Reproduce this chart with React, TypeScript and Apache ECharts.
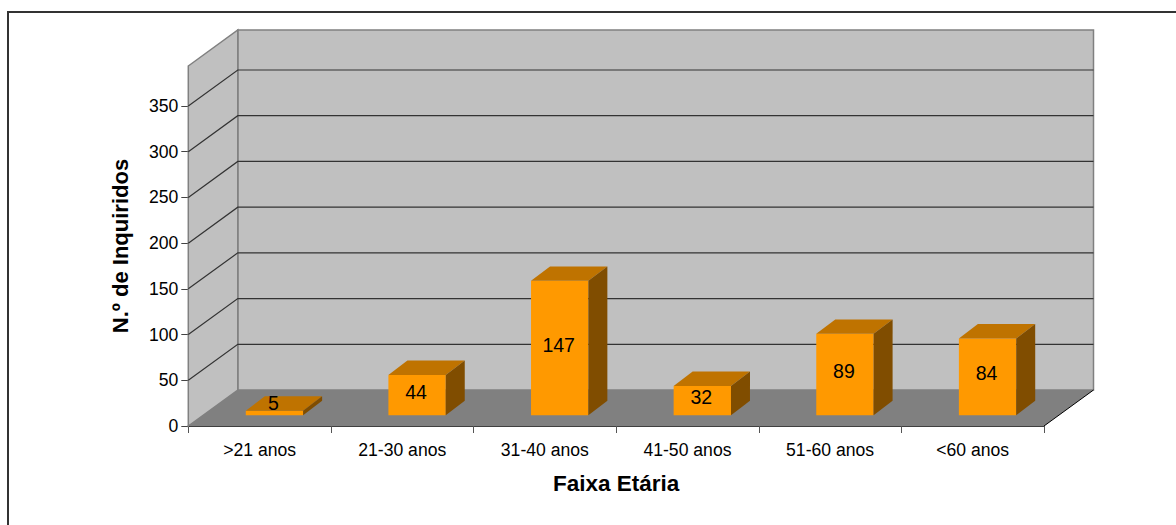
import React, { useEffect, useRef } from "react";
import * as echarts from "echarts";

const categories = [">21 anos", "21-30 anos", "31-40 anos", "41-50 anos", "51-60 anos", "<60 anos"];
const respondents = [5, 44, 147, 32, 89, 84];
const yTicks = [0, 50, 100, 150, 200, 250, 300, 350];
const yMax = 393.75;
const xName = "Faixa Etária";
const yName = "N.º de Inquiridos";

const DX = 49.5;
const DY = 36;
const FONT = "'Liberation Sans', Arial, sans-serif";

function pts(list: number[][]) {
  return { points: list };
}

export default function App() {
  const ref = useRef<HTMLDivElement>(null);
  useEffect(() => {
    const chart = echarts.init(ref.current!, undefined, { renderer: "svg" });
    chart.setOption({
      animation: false,
      backgroundColor: "#ffffff",
      grid: { left: 188.3, right: 132, top: 66, bottom: 99, containLabel: false },
      xAxis: {
        type: "category",
        data: categories,
        boundaryGap: true,
        name: xName,
        nameLocation: "middle",
        nameGap: 46,
        nameTextStyle: { fontFamily: FONT, fontSize: 22.5, fontWeight: "bold", color: "#000" },
        axisLine: { show: true, lineStyle: { color: "#000", width: 1.5 } },
        axisTick: { show: true, alignWithLabel: false, length: 7, lineStyle: { color: "#555" } },
        axisLabel: { fontFamily: FONT, fontSize: 17.6, color: "#000", margin: 15, interval: 0 },
      },
      yAxis: {
        type: "value",
        min: 0,
        max: yMax,
        name: yName,
        nameLocation: "middle",
        nameGap: 57,
        nameTextStyle: { fontFamily: FONT, fontSize: 22, fontWeight: "bold", color: "#000" },
        splitLine: { show: false },
        axisLine: { show: true, lineStyle: { color: "#444", width: 1.5 } },
        axisTick: { show: true, length: 7, customValues: yTicks, lineStyle: { color: "#444" } },
        axisLabel: { fontFamily: FONT, fontSize: 17.6, color: "#000", margin: 10, customValues: yTicks },
      },
      series: [
        {
          type: "custom",
          name: "walls",
          silent: true,
          z: 1,
          data: yTicks.map((v) => [0, v]),
          renderItem: (params: any, api: any) => {
            const cs = params.coordSys;
            const x0 = cs.x;
            const x1 = cs.x + cs.width;
            const yT = cs.y;
            const yB = cs.y + cs.height;
            const v = api.value(1);
            const y = api.coord([0, v])[1];
            const children: any[] = [];
            if (params.dataIndex === 0) {
              children.push(
                { type: "polygon", shape: pts([[x0 + DX, yT - DY], [x1 + DX, yT - DY], [x1 + DX, yB - DY], [x0 + DX, yB - DY]]), style: { fill: "#c0c0c0", stroke: "#808080", lineWidth: 1.5 } },
                { type: "polygon", shape: pts([[x0, yT], [x0 + DX, yT - DY], [x0 + DX, yB - DY], [x0, yB]]), style: { fill: "#c0c0c0", stroke: "#808080", lineWidth: 1.5 } },
                { type: "polygon", shape: pts([[x0, yB], [x0 + DX, yB - DY], [x1 + DX, yB - DY], [x1, yB]]), style: { fill: "#808080" } },
                { type: "line", shape: { x1: x1, y1: yB, x2: x1 + DX, y2: yB - DY }, style: { stroke: "#000", lineWidth: 1 } }
              );
            } else {
              children.push(
                { type: "polyline", shape: pts([[x0, y], [x0 + DX, y - DY], [x1 + DX, y - DY]]), style: { fill: "none", stroke: "#333", lineWidth: 1.2 } }
              );
            }
            return { type: "group", children };
          },
        },
        {
          type: "custom",
          name: "N.º de Inquiridos",
          z: 5,
          data: respondents.map((v, i) => [i, v]),
          encode: { x: 0, y: 1 },
          renderItem: (_params: any, api: any) => {
            const i = api.value(0);
            const v = api.value(1);
            const band = api.size([1, 0])[0];
            const base = api.coord([i, 0]);
            const top = api.coord([i, v]);
            const w = band * 0.402;
            const left = base[0] + DX * 0.3 - w / 2;
            const right = left + w;
            const yB = base[1] - DY * 0.3;
            const yT = top[1] - DY * 0.3;
            const ox = DX * 0.384;
            const oy = DY * 0.4;
            const mid = (yB + yT) / 2;
            return {
              type: "group",
              children: [
                { type: "polygon", shape: pts([[left, yT], [right, yT], [right, yB], [left, yB]]), style: { fill: "#ff9900" } },
                { type: "polygon", shape: pts([[left, yT], [left + ox, yT - oy], [right + ox, yT - oy], [right, yT]]), style: { fill: "#bf7300" } },
                { type: "polygon", shape: pts([[right, yT], [right + ox, yT - oy], [right + ox, yB - oy], [right, yB]]), style: { fill: "#804d00" } },
                { type: "text", style: { text: String(v), x: (left + right) / 2 - 1, y: Math.min(mid - 3.5, yB - 12), align: "center", verticalAlign: "middle", fontFamily: FONT, fontSize: 19.5, fill: "#000" } },
              ],
            };
          },
        },
      ],
      graphic: [
        { type: "rect", silent: true, z: -1, shape: { x: 8, y: 12, width: 1400, height: 800 }, style: { fill: "none", stroke: "#333", lineWidth: 2 } },
      ],
    });
    return () => chart.dispose();
  }, []);
  return <div ref={ref} style={{ position: "fixed", left: 0, top: 0, width: 1176, height: 525 }} />;
}
